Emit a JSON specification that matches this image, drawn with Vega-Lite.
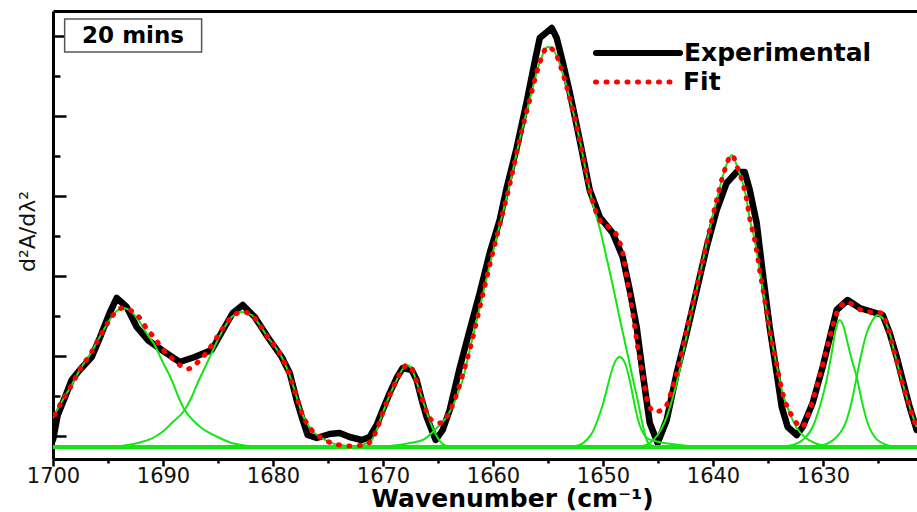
{
  "$schema": "https://vega.github.io/schema/vega-lite/v6.json",
  "width": 864,
  "height": 448,
  "autosize": {"type": "none"},
  "padding": {"left": 53, "top": 11, "right": 0, "bottom": 53},
  "background": "white",
  "config": {"view": {"stroke": null}, "font": "DejaVu Sans"},
  "datasets": {
    "exp": [
      {"wn":1700.0,"v":0.07},{"wn":1699.57,"v":0.32},{"wn":1698.94,"v":0.49},{"wn":1698.3,"v":0.67},{"wn":1697.57,"v":0.77},{"wn":1696.48,"v":0.90},{"wn":1695.75,"v":1.09},{"wn":1694.85,"v":1.34},{"wn":1694.21,"v":1.49},{"wn":1693.3,"v":1.40},{"wn":1692.39,"v":1.20},{"wn":1691.39,"v":1.07},{"wn":1689.85,"v":0.95},{"wn":1688.48,"v":0.85},{"wn":1687.12,"v":0.90},{"wn":1685.57,"v":0.97},{"wn":1684.39,"v":1.20},{"wn":1683.66,"v":1.34},{"wn":1682.75,"v":1.42},{"wn":1681.66,"v":1.30},{"wn":1680.48,"v":1.10},{"wn":1679.21,"v":0.90},{"wn":1678.48,"v":0.74},{"wn":1677.85,"v":0.47},{"wn":1677.3,"v":0.27},{"wn":1676.85,"v":0.12},{"wn":1676.03,"v":0.09},{"wn":1674.85,"v":0.13},{"wn":1673.94,"v":0.14},{"wn":1673.03,"v":0.10},{"wn":1671.94,"v":0.07},{"wn":1671.21,"v":0.10},{"wn":1670.57,"v":0.22},{"wn":1670.03,"v":0.37},{"wn":1669.39,"v":0.54},{"wn":1668.76,"v":0.69},{"wn":1668.21,"v":0.79},{"wn":1667.39,"v":0.77},{"wn":1666.94,"v":0.67},{"wn":1666.48,"v":0.47},{"wn":1666.03,"v":0.30},{"wn":1665.57,"v":0.17},{"wn":1665.21,"v":0.07},{"wn":1664.57,"v":0.17},{"wn":1663.94,"v":0.37},{"wn":1663.03,"v":0.79},{"wn":1662.12,"v":1.17},{"wn":1661.21,"v":1.54},{"wn":1660.3,"v":1.94},{"wn":1659.39,"v":2.27},{"wn":1658.76,"v":2.59},{"wn":1657.85,"v":2.99},{"wn":1656.94,"v":3.45},{"wn":1656.21,"v":3.85},{"wn":1655.75,"v":4.09},{"wn":1654.66,"v":4.19},{"wn":1654.21,"v":4.09},{"wn":1653.66,"v":3.85},{"wn":1653.03,"v":3.55},{"wn":1652.12,"v":3.07},{"wn":1651.21,"v":2.57},{"wn":1650.3,"v":2.30},{"wn":1649.12,"v":2.14},{"wn":1648.21,"v":1.90},{"wn":1647.57,"v":1.57},{"wn":1646.94,"v":1.20},{"wn":1646.39,"v":0.74},{"wn":1645.75,"v":0.24},{"wn":1645.03,"v":0.04},{"wn":1644.21,"v":0.27},{"wn":1643.3,"v":0.74},{"wn":1642.39,"v":1.14},{"wn":1641.48,"v":1.57},{"wn":1640.57,"v":2.00},{"wn":1639.66,"v":2.37},{"wn":1638.76,"v":2.64},{"wn":1637.85,"v":2.75},{"wn":1637.12,"v":2.75},{"wn":1636.66,"v":2.57},{"wn":1636.03,"v":2.24},{"wn":1635.48,"v":1.74},{"wn":1634.85,"v":1.20},{"wn":1634.21,"v":0.74},{"wn":1633.75,"v":0.40},{"wn":1633.21,"v":0.20},{"wn":1632.39,"v":0.12},{"wn":1631.85,"v":0.20},{"wn":1630.94,"v":0.44},{"wn":1630.03,"v":0.80},{"wn":1629.21,"v":1.17},{"wn":1628.76,"v":1.37},{"wn":1627.76,"v":1.47},{"wn":1626.67,"v":1.39},{"wn":1625.48,"v":1.35},{"wn":1624.57,"v":1.32},{"wn":1623.94,"v":1.14},{"wn":1623.3,"v":0.90},{"wn":1622.76,"v":0.67},{"wn":1622.12,"v":0.40},{"wn":1621.48,"v":0.17}
    ],
    "fit": [
      {"wn":1699.85,"v":0.32},{"wn":1699.12,"v":0.47},{"wn":1698.3,"v":0.62},{"wn":1697.58,"v":0.77},{"wn":1696.49,"v":0.95},{"wn":1695.76,"v":1.10},{"wn":1694.85,"v":1.27},{"wn":1694.21,"v":1.36},{"wn":1693.67,"v":1.39},{"wn":1692.85,"v":1.36},{"wn":1692.12,"v":1.29},{"wn":1691.39,"v":1.17},{"wn":1690.76,"v":1.09},{"wn":1690.12,"v":0.99},{"wn":1689.21,"v":0.89},{"wn":1688.49,"v":0.82},{"wn":1687.76,"v":0.78},{"wn":1687.03,"v":0.83},{"wn":1686.21,"v":0.92},{"wn":1685.49,"v":1.03},{"wn":1684.67,"v":1.17},{"wn":1683.76,"v":1.30},{"wn":1682.76,"v":1.35},{"wn":1681.94,"v":1.32},{"wn":1681.21,"v":1.22},{"wn":1680.49,"v":1.10},{"wn":1679.21,"v":0.90},{"wn":1678.49,"v":0.72},{"wn":1677.85,"v":0.50},{"wn":1677.3,"v":0.32},{"wn":1676.49,"v":0.17},{"wn":1675.58,"v":0.09},{"wn":1674.39,"v":0.03},{"wn":1673.03,"v":0.01},{"wn":1671.67,"v":0.02},{"wn":1671.03,"v":0.07},{"wn":1670.58,"v":0.17},{"wn":1670.03,"v":0.34},{"wn":1669.39,"v":0.52},{"wn":1668.76,"v":0.67},{"wn":1668.21,"v":0.78},{"wn":1667.85,"v":0.82},{"wn":1667.39,"v":0.78},{"wn":1666.94,"v":0.65},{"wn":1666.49,"v":0.50},{"wn":1666.03,"v":0.35},{"wn":1665.49,"v":0.26},{"wn":1664.85,"v":0.24},{"wn":1664.21,"v":0.30},{"wn":1663.49,"v":0.47},{"wn":1662.85,"v":0.69},{"wn":1662.12,"v":0.97},{"wn":1661.21,"v":1.39},{"wn":1660.3,"v":1.82},{"wn":1659.39,"v":2.22},{"wn":1658.49,"v":2.62},{"wn":1657.58,"v":3.07},{"wn":1656.67,"v":3.47},{"wn":1655.76,"v":3.84},{"wn":1655.03,"v":4.00},{"wn":1654.39,"v":3.95},{"wn":1653.67,"v":3.74},{"wn":1653.03,"v":3.49},{"wn":1652.12,"v":3.07},{"wn":1651.21,"v":2.57},{"wn":1650.3,"v":2.27},{"wn":1649.39,"v":2.19},{"wn":1648.67,"v":2.10},{"wn":1648.21,"v":1.94},{"wn":1647.76,"v":1.64},{"wn":1647.3,"v":1.34},{"wn":1646.85,"v":1.00},{"wn":1646.39,"v":0.72},{"wn":1645.94,"v":0.45},{"wn":1645.3,"v":0.35},{"wn":1644.67,"v":0.37},{"wn":1644.21,"v":0.42},{"wn":1643.67,"v":0.60},{"wn":1643.03,"v":0.85},{"wn":1642.39,"v":1.17},{"wn":1641.49,"v":1.59},{"wn":1640.58,"v":2.04},{"wn":1639.67,"v":2.47},{"wn":1638.94,"v":2.77},{"wn":1638.3,"v":2.92},{"wn":1637.76,"v":2.79},{"wn":1637.3,"v":2.64},{"wn":1636.94,"v":2.47},{"wn":1636.67,"v":2.29},{"wn":1636.21,"v":2.07},{"wn":1635.76,"v":1.77},{"wn":1635.3,"v":1.47},{"wn":1634.85,"v":1.17},{"wn":1634.21,"v":0.82},{"wn":1633.67,"v":0.54},{"wn":1632.76,"v":0.30},{"wn":1631.94,"v":0.20},{"wn":1631.21,"v":0.37},{"wn":1630.49,"v":0.64},{"wn":1629.85,"v":0.90},{"wn":1629.21,"v":1.17},{"wn":1628.76,"v":1.34},{"wn":1627.76,"v":1.45},{"wn":1626.94,"v":1.39},{"wn":1625.76,"v":1.35},{"wn":1624.67,"v":1.34},{"wn":1624.12,"v":1.20},{"wn":1623.49,"v":0.94},{"wn":1622.85,"v":0.67},{"wn":1622.12,"v":0.40},{"wn":1621.49,"v":0.19}
    ],
    "comps": [
      {"c":"1","wn":1700.03,"v":0.29},{"c":"1","wn":1699.12,"v":0.47},{"c":"1","wn":1698.3,"v":0.62},{"c":"1","wn":1697.58,"v":0.77},{"c":"1","wn":1696.49,"v":0.95},{"c":"1","wn":1695.76,"v":1.10},{"c":"1","wn":1694.85,"v":1.27},{"c":"1","wn":1694.21,"v":1.36},{"c":"1","wn":1693.67,"v":1.39},{"c":"1","wn":1692.85,"v":1.35},{"c":"1","wn":1692.12,"v":1.25},{"c":"1","wn":1691.39,"v":1.12},{"c":"1","wn":1690.76,"v":1.02},{"c":"1","wn":1690.03,"v":0.85},{"c":"1","wn":1689.21,"v":0.67},{"c":"1","wn":1688.67,"v":0.52},{"c":"1","wn":1688.03,"v":0.37},{"c":"1","wn":1687.3,"v":0.27},{"c":"1","wn":1686.49,"v":0.19},{"c":"1","wn":1685.03,"v":0.10},{"c":"1","wn":1683.76,"v":0.04},{"c":"1","wn":1682.12,"v":0.01},{"c":"1","wn":1680.3,"v":0.0},
      {"c":"2","wn":1694.85,"v":0.0},{"c":"2","wn":1693.21,"v":0.02},{"c":"2","wn":1691.94,"v":0.05},{"c":"2","wn":1690.76,"v":0.10},{"c":"2","wn":1689.85,"v":0.17},{"c":"2","wn":1689.21,"v":0.24},{"c":"2","wn":1688.03,"v":0.37},{"c":"2","wn":1687.39,"v":0.50},{"c":"2","wn":1686.85,"v":0.64},{"c":"2","wn":1686.21,"v":0.79},{"c":"2","wn":1685.58,"v":0.94},{"c":"2","wn":1685.03,"v":1.07},{"c":"2","wn":1684.39,"v":1.20},{"c":"2","wn":1683.76,"v":1.30},{"c":"2","wn":1682.76,"v":1.35},{"c":"2","wn":1681.94,"v":1.32},{"c":"2","wn":1681.21,"v":1.22},{"c":"2","wn":1680.49,"v":1.10},{"c":"2","wn":1679.21,"v":0.90},{"c":"2","wn":1678.49,"v":0.72},{"c":"2","wn":1677.85,"v":0.50},{"c":"2","wn":1677.3,"v":0.32},{"c":"2","wn":1676.49,"v":0.17},{"c":"2","wn":1675.58,"v":0.09},{"c":"2","wn":1674.39,"v":0.03},{"c":"2","wn":1673.03,"v":0.01},{"c":"2","wn":1671.67,"v":0.0},
      {"c":"3","wn":1672.58,"v":0.0},{"c":"3","wn":1671.67,"v":0.03},{"c":"3","wn":1671.03,"v":0.07},{"c":"3","wn":1670.58,"v":0.17},{"c":"3","wn":1670.03,"v":0.34},{"c":"3","wn":1669.39,"v":0.52},{"c":"3","wn":1668.76,"v":0.67},{"c":"3","wn":1668.21,"v":0.78},{"c":"3","wn":1667.85,"v":0.82},{"c":"3","wn":1667.39,"v":0.78},{"c":"3","wn":1666.94,"v":0.65},{"c":"3","wn":1666.49,"v":0.50},{"c":"3","wn":1666.03,"v":0.35},{"c":"3","wn":1665.49,"v":0.19},{"c":"3","wn":1665.03,"v":0.09},{"c":"3","wn":1664.58,"v":0.03},{"c":"3","wn":1663.94,"v":0.0},
      {"c":"4","wn":1672.12,"v":0.0},{"c":"4","wn":1669.39,"v":0.01},{"c":"4","wn":1667.58,"v":0.04},{"c":"4","wn":1666.39,"v":0.07},{"c":"4","wn":1665.12,"v":0.19},{"c":"4","wn":1664.21,"v":0.30},{"c":"4","wn":1663.3,"v":0.50},{"c":"4","wn":1662.76,"v":0.67},{"c":"4","wn":1662.12,"v":0.97},{"c":"4","wn":1661.21,"v":1.39},{"c":"4","wn":1660.3,"v":1.82},{"c":"4","wn":1659.39,"v":2.22},{"c":"4","wn":1658.49,"v":2.62},{"c":"4","wn":1657.58,"v":3.07},{"c":"4","wn":1656.67,"v":3.47},{"c":"4","wn":1655.76,"v":3.84},{"c":"4","wn":1655.03,"v":4.00},{"c":"4","wn":1654.39,"v":3.95},{"c":"4","wn":1653.67,"v":3.74},{"c":"4","wn":1653.03,"v":3.49},{"c":"4","wn":1652.12,"v":3.07},{"c":"4","wn":1651.49,"v":2.72},{"c":"4","wn":1650.94,"v":2.44},{"c":"4","wn":1650.3,"v":2.19},{"c":"4","wn":1649.67,"v":1.89},{"c":"4","wn":1649.12,"v":1.62},{"c":"4","wn":1648.49,"v":1.29},{"c":"4","wn":1647.85,"v":0.97},{"c":"4","wn":1647.3,"v":0.69},{"c":"4","wn":1646.85,"v":0.47},{"c":"4","wn":1646.39,"v":0.22},{"c":"4","wn":1646.03,"v":0.07},{"c":"4","wn":1645.58,"v":0.01},{"c":"4","wn":1644.85,"v":0.0},
      {"c":"5","wn":1653.03,"v":0.0},{"c":"5","wn":1652.12,"v":0.02},{"c":"5","wn":1651.49,"v":0.07},{"c":"5","wn":1650.94,"v":0.15},{"c":"5","wn":1650.49,"v":0.27},{"c":"5","wn":1650.03,"v":0.42},{"c":"5","wn":1649.67,"v":0.57},{"c":"5","wn":1649.39,"v":0.69},{"c":"5","wn":1649.03,"v":0.82},{"c":"5","wn":1648.76,"v":0.88},{"c":"5","wn":1648.49,"v":0.90},{"c":"5","wn":1648.21,"v":0.88},{"c":"5","wn":1647.94,"v":0.82},{"c":"5","wn":1647.58,"v":0.67},{"c":"5","wn":1647.3,"v":0.52},{"c":"5","wn":1647.03,"v":0.37},{"c":"5","wn":1646.67,"v":0.22},{"c":"5","wn":1646.3,"v":0.13},{"c":"5","wn":1646.03,"v":0.09},{"c":"5","wn":1645.3,"v":0.06},{"c":"5","wn":1644.39,"v":0.04},{"c":"5","wn":1643.03,"v":0.02},{"c":"5","wn":1641.21,"v":0.0},
      {"c":"6","wn":1646.67,"v":0.0},{"c":"6","wn":1645.76,"v":0.04},{"c":"6","wn":1645.03,"v":0.12},{"c":"6","wn":1644.39,"v":0.25},{"c":"6","wn":1643.67,"v":0.49},{"c":"6","wn":1643.03,"v":0.77},{"c":"6","wn":1642.39,"v":1.12},{"c":"6","wn":1641.49,"v":1.57},{"c":"6","wn":1640.58,"v":2.04},{"c":"6","wn":1639.67,"v":2.47},{"c":"6","wn":1638.94,"v":2.77},{"c":"6","wn":1638.3,"v":2.92},{"c":"6","wn":1637.76,"v":2.79},{"c":"6","wn":1637.3,"v":2.64},{"c":"6","wn":1636.94,"v":2.47},{"c":"6","wn":1636.67,"v":2.29},{"c":"6","wn":1636.21,"v":2.07},{"c":"6","wn":1635.76,"v":1.77},{"c":"6","wn":1635.3,"v":1.47},{"c":"6","wn":1634.85,"v":1.17},{"c":"6","wn":1634.21,"v":0.82},{"c":"6","wn":1633.67,"v":0.54},{"c":"6","wn":1633.03,"v":0.34},{"c":"6","wn":1632.39,"v":0.19},{"c":"6","wn":1631.67,"v":0.10},{"c":"6","wn":1630.76,"v":0.04},{"c":"6","wn":1629.39,"v":0.0},
      {"c":"7","wn":1633.94,"v":0.0},{"c":"7","wn":1632.76,"v":0.02},{"c":"7","wn":1631.85,"v":0.07},{"c":"7","wn":1630.94,"v":0.20},{"c":"7","wn":1630.3,"v":0.40},{"c":"7","wn":1629.67,"v":0.67},{"c":"7","wn":1629.21,"v":0.94},{"c":"7","wn":1628.85,"v":1.17},{"c":"7","wn":1628.49,"v":1.27},{"c":"7","wn":1628.12,"v":1.20},{"c":"7","wn":1627.76,"v":1.04},{"c":"7","wn":1627.3,"v":0.84},{"c":"7","wn":1626.94,"v":0.70},{"c":"7","wn":1626.49,"v":0.47},{"c":"7","wn":1626.03,"v":0.27},{"c":"7","wn":1625.3,"v":0.10},{"c":"7","wn":1624.21,"v":0.02},{"c":"7","wn":1623.67,"v":0.0},
      {"c":"8","wn":1631.21,"v":0.0},{"c":"8","wn":1630.3,"v":0.01},{"c":"8","wn":1628.76,"v":0.10},{"c":"8","wn":1627.85,"v":0.27},{"c":"8","wn":1627.3,"v":0.50},{"c":"8","wn":1626.94,"v":0.70},{"c":"8","wn":1626.49,"v":0.94},{"c":"8","wn":1626.03,"v":1.14},{"c":"8","wn":1625.48,"v":1.27},{"c":"8","wn":1625.03,"v":1.32},{"c":"8","wn":1624.58,"v":1.29},{"c":"8","wn":1623.94,"v":1.14},{"c":"8","wn":1623.49,"v":0.94},{"c":"8","wn":1622.85,"v":0.67},{"c":"8","wn":1622.12,"v":0.40},{"c":"8","wn":1621.49,"v":0.20}
    ],
    "label": [
      {"text": "20 mins", "x1": 1698.94, "x2": 1686.49, "y1": 4.28, "y2": 3.95, "xc": 1692.72, "yc": 4.115, "base": 0}
    ]
  },
  "resolve": {"axis": {"x": "independent", "y": "independent"}},
  "layer": [
    {
      "data": {"name": "exp"},
      "mark": {"type": "line", "strokeWidth": 6.5, "strokeJoin": "round", "strokeCap": "round", "clip": true},
      "encoding": {
        "x": {"field": "wn", "type": "quantitative",
          "scale": {"domain": [1621.455, 1700], "reverse": true, "nice": false, "zero": false},
          "axis": {"orient": "bottom", "values": [1700, 1690, 1680, 1670, 1660, 1650, 1640, 1630], "format": "d", "grid": false,
            "labelFont": "DejaVu Sans", "labelFontSize": 21, "labelColor": "#111111", "labelPadding": -1, "labelFlush": false, "labelOverlap": false,
            "tickSize": 7, "tickWidth": 2.5, "tickColor": "#000000", "domainColor": "#000000", "domainWidth": 3,
            "title": "Wavenumber (cm⁻¹)", "titleFont": "DejaVu Sans", "titleFontSize": 25, "titleFontWeight": "bold", "titleColor": "#000000",
            "titleX": 459, "titleY": 52, "titleAlign": "center", "titleBaseline": "bottom"}},
        "y": {"field": "v", "type": "quantitative",
          "scale": {"domain": [-0.12, 4.36], "nice": false, "zero": false},
          "axis": {"orient": "left", "values": [0.11, 0.91, 1.71, 2.51, 3.31, 4.11], "labels": false, "grid": false,
            "tickSize": -13, "tickWidth": 2.5, "tickColor": "#000000", "domainColor": "#000000", "domainWidth": 3,
            "title": "d²A/dλ²", "titleFont": "DejaVu Sans", "titleFontSize": 22, "titleFontWeight": "normal", "titleColor": "#111111",
            "titleX": -26, "titleY": 220, "titleAngle": 270, "titleAlign": "center", "titleBaseline": "middle"}},
        "color": {"datum": "Experimental",
          "scale": {"domain": ["Experimental"], "range": ["#000000"]},
          "legend": {"title": null, "orient": "none", "legendX": 540, "legendY": 27, "padding": 0,
            "symbolType": "stroke", "symbolSize": 7056, "symbolStrokeWidth": 6, "clipHeight": 30,
            "labelFont": "DejaVu Sans", "labelFontSize": 25, "labelFontWeight": "bold", "labelColor": "#000000", "labelOffset": 1, "labelLimit": 400,
            "encode": {"symbols": {"update": {"strokeCap": {"value": "round"}}}}}}
      }
    },
    {
      "data": {"name": "comps"},
      "mark": {"type": "line", "stroke": "#14e614", "strokeWidth": 2, "interpolate": "monotone", "clip": true},
      "encoding": {
        "x": {"field": "wn", "type": "quantitative",
          "scale": {"domain": [1621.455, 1700], "reverse": true, "nice": false, "zero": false},
          "axis": {"orient": "bottom", "values": [1695, 1685, 1675, 1665, 1655, 1645, 1635, 1625], "labels": false, "domain": false, "grid": false,
            "tickSize": 4, "tickWidth": 2.5, "tickColor": "#000000", "title": null}},
        "y": {"field": "v", "type": "quantitative",
          "scale": {"domain": [-0.12, 4.36], "nice": false, "zero": false},
          "axis": {"orient": "left", "values": [0.51, 1.31, 2.11, 2.91, 3.71], "labels": false, "domain": false, "grid": false,
            "tickSize": -7, "tickWidth": 2.5, "tickColor": "#000000", "title": null}},
        "detail": {"field": "c", "type": "nominal"}
      }
    },
    {
      "data": {"name": "label"},
      "mark": {"type": "rule", "stroke": "#14e614", "strokeWidth": 4},
      "encoding": {
        "y": {"field": "base", "type": "quantitative",
          "scale": {"domain": [-0.12, 4.36], "nice": false, "zero": false}, "axis": null}
      }
    },
    {
      "data": {"name": "fit"},
      "mark": {"type": "line", "stroke": "#ff0000", "strokeWidth": 5, "strokeCap": "round", "interpolate": "monotone", "clip": true},
      "encoding": {
        "x": {"field": "wn", "type": "quantitative",
          "scale": {"domain": [1621.455, 1700], "reverse": true, "nice": false, "zero": false},
          "axis": {"orient": "top", "labels": false, "ticks": false, "grid": false, "domainColor": "#000000", "domainWidth": 3, "title": null}},
        "y": {"field": "v", "type": "quantitative",
          "scale": {"domain": [-0.12, 4.36], "nice": false, "zero": false}, "axis": null},
        "strokeDash": {"datum": "Fit",
          "scale": {"domain": ["Fit"], "range": [[1, 9.5]]},
          "legend": {"title": null, "orient": "none", "legendX": 540, "legendY": 56, "padding": 0,
            "symbolType": "stroke", "symbolSize": 7056, "symbolStrokeWidth": 5, "symbolStrokeColor": "#ff0000", "clipHeight": 30,
            "labelFont": "DejaVu Sans", "labelFontSize": 25, "labelFontWeight": "bold", "labelColor": "#000000", "labelOffset": 1, "labelLimit": 400,
            "encode": {"symbols": {"update": {"strokeCap": {"value": "round"}, "strokeDash": {"value": [1, 14]}, "stroke": {"value": "#ff0000"}}}}}}
      }
    },
    {
      "data": {"name": "label"},
      "mark": {"type": "rect", "fill": "#ffffff", "stroke": "#555555", "strokeWidth": 1.5},
      "encoding": {
        "x": {"field": "x1", "type": "quantitative", "scale": {"domain": [1621.455, 1700], "reverse": true, "nice": false, "zero": false}, "axis": null},
        "x2": {"field": "x2"},
        "y": {"field": "y1", "type": "quantitative", "scale": {"domain": [-0.12, 4.36], "nice": false, "zero": false}, "axis": null},
        "y2": {"field": "y2"}
      }
    },
    {
      "data": {"name": "label"},
      "mark": {"type": "text", "font": "DejaVu Sans", "fontSize": 23, "fontWeight": "bold", "align": "center", "baseline": "middle", "color": "#000000"},
      "encoding": {
        "x": {"field": "xc", "type": "quantitative", "scale": {"domain": [1621.455, 1700], "reverse": true, "nice": false, "zero": false}, "axis": null},
        "y": {"field": "yc", "type": "quantitative", "scale": {"domain": [-0.12, 4.36], "nice": false, "zero": false}, "axis": null},
        "text": {"field": "text"}
      }
    }
  ]
}
